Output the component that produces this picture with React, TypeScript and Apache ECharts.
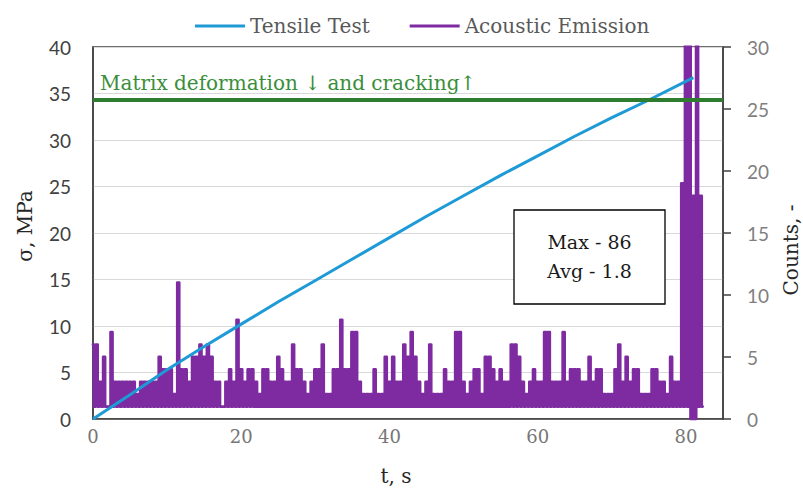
import React, { useEffect, useRef } from "react";
import * as echarts from "echarts";

// Tensile test: time (s) vs stress (MPa), left axis
const tensileT = [0, 5, 10, 15, 20, 25, 30, 35, 40, 45, 50, 55, 60, 65, 70, 75, 81];
const tensileS = [0, 2.6, 5.3, 7.8, 10.2, 12.6, 14.9, 17.2, 19.5, 21.8, 24.0, 26.2, 28.3, 30.4, 32.4, 34.3, 36.7];

// Acoustic emission counts (right axis): peak counts sampled every 0.5 s from t = 0
const aeStep = 0.5;
const aeHigh = [
  6, 6, 3, 5, 1, 7, 3, 3, 3, 3,
  3, 3, 2, 3, 3, 3, 3, 3, 5, 4,
  4, 4, 2, 11, 4, 4, 3, 5, 5, 6,
  5, 6, 5, 3, 3, 1, 3, 4, 3, 8,
  4, 3, 4, 4, 3, 2, 4, 4, 3, 3,
  5, 4, 3, 3, 6, 4, 4, 3, 2, 3,
  4, 4, 6, 2, 2, 4, 4, 8, 4, 4,
  7, 7, 3, 2, 2, 2, 4, 2, 2, 5,
  3, 5, 3, 3, 6, 5, 7, 5, 3, 2,
  3, 6, 2, 2, 2, 4, 3, 3, 7, 7,
  3, 2, 3, 4, 4, 2, 5, 5, 4, 3,
  4, 3, 3, 6, 6, 5, 3, 2, 3, 4,
  3, 3, 7, 7, 3, 3, 3, 7, 3, 4,
  4, 4, 3, 3, 5, 3, 4, 4, 2, 2,
  2, 4, 6, 3, 5, 3, 4, 4, 2, 2,
  2, 4, 4, 3, 3, 2, 5, 3, 3, 19,
  86, 60, 18, 70, 18,
];
// Minimum counts between peaks (at t = 0.25 s + 0.5 s * i)
const aeLow = [
  1, 1, 1, 1, 1, 1, 1, 1, 1, 1,
  1, 1, 1, 1, 1, 1, 1, 1, 1, 1,
  1, 1, 1, 1, 1, 1, 1, 1, 1, 1,
  1, 1, 1, 1, 1, 1, 1, 1, 1, 1,
  1, 1, 1, 1, 1, 1, 1, 1, 1, 1,
  1, 1, 1, 1, 1, 1, 1, 1, 1, 1,
  1, 1, 1, 1, 1, 1, 1, 1, 1, 1,
  1, 1, 1, 1, 1, 1, 1, 1, 1, 1,
  1, 1, 1, 1, 1, 1, 1, 1, 1, 1,
  1, 1, 1, 1, 1, 1, 1, 1, 1, 1,
  1, 1, 1, 1, 1, 1, 1, 1, 1, 1,
  1, 1, 1, 1, 1, 1, 1, 1, 1, 1,
  1, 1, 1, 1, 1, 1, 1, 1, 1, 1,
  1, 1, 1, 1, 1, 1, 1, 1, 1, 1,
  1, 1, 1, 1, 1, 1, 1, 1, 1, 1,
  1, 1, 1, 1, 1, 1, 1, 1, 1, 1,
  1, 0, 0, 1, 1,
];

const thresholdStress = 34.3;
const thresholdLabel = "Matrix deformation \u2193 and cracking\u2191";
const statsLines = ["Max - 86", "Avg - 1.8"];
const seriesNames = ["Tensile Test", "Acoustic Emission"];

const SERIF = "'DejaVu Serif', serif";
const SANS = "Lato, 'Open Sans', sans-serif";

export default function App() {
  const ref = useRef<HTMLDivElement>(null);

  useEffect(() => {
    if (!ref.current) return;
    const chart = echarts.init(ref.current, undefined, { renderer: "svg" });

    const tensileData = tensileT.map((t, i) => [t, tensileS[i]]);
    const aeData: number[][] = [];
    aeHigh.forEach((v, i) => {
      aeData.push([i * aeStep, v]);
      aeData.push([i * aeStep + aeStep / 2, aeLow[i]]);
    });

    const option: any = {
      animation: false,
      backgroundColor: "#ffffff",
      legend: {
        data: seriesNames,
        left: 190,
        top: 11,
        icon: "rect",
        itemWidth: 50,
        itemHeight: 3,
        itemGap: 40,
        textStyle: { fontFamily: SERIF, fontSize: 20, color: "#595959" },
      },
      grid: {
        left: 93,
        right: 80,
        top: 47,
        bottom: 70,
        show: true,
        borderColor: "#404040",
        borderWidth: 1.5,
        outerBoundsMode: "none",
      },
      xAxis: {
        type: "value",
        min: 0,
        max: 85,
        interval: 20,
        axisLine: { show: true, onZero: false, lineStyle: { color: "#404040", width: 1.5 } },
        axisTick: { show: false },
        splitLine: { show: false },
        axisLabel: {
          showMaxLabel: false,
          fontFamily: SERIF,
          fontSize: 18,
          color: "#767676",
          margin: 8,
        },
      },
      yAxis: [
        {
          type: "value",
          min: 0,
          max: 40,
          interval: 5,
          position: "left",
          axisLine: { show: true, lineStyle: { color: "#404040", width: 1.5 } },
          axisTick: { show: false },
          splitLine: { show: true, lineStyle: { color: "#d9d9d9", width: 1 } },
          axisLabel: { fontFamily: SANS, fontSize: 19, color: "#404040", margin: 22 },
        },
        {
          type: "value",
          min: 0,
          max: 30,
          interval: 5,
          position: "right",
          axisLine: { show: true, lineStyle: { color: "#404040", width: 1.5 } },
          axisTick: { show: true, inside: false, length: 8, lineStyle: { color: "#404040", width: 1.5 } },
          splitLine: { show: false },
          axisLabel: { fontFamily: SANS, fontSize: 19, color: "#7f7f7f", margin: 24 },
        },
      ],
      series: [
        {
          name: "threshold",
          type: "line",
          data: [],
          z: 1,
          silent: true,
          markLine: {
            silent: true,
            symbol: ["none", "none"],
            data: [{ yAxis: thresholdStress }],
            lineStyle: { color: "#2E7D2E", width: 4, type: "solid" },
            label: {
              show: true,
              position: "insideStartTop",
              formatter: thresholdLabel,
              fontFamily: SERIF,
              fontSize: 20,
              color: "#3A8E3A",
              distance: 7,
            },
          },
        },
        {
          name: seriesNames[1],
          type: "line",
          yAxisIndex: 1,
          data: aeData,
          symbol: "none",
          step: "middle",
          z: 2,
          lineStyle: { color: "#7E2AA1", width: 2.8, join: "round", cap: "round" },
          itemStyle: { color: "#7E2AA1" },
        },
        {
          name: seriesNames[0],
          type: "line",
          yAxisIndex: 0,
          data: tensileData,
          symbol: "none",
          z: 3,
          lineStyle: { color: "#1E9AD6", width: 3 },
          itemStyle: { color: "#1E9AD6" },
        },
      ],
      graphic: [
        {
          type: "rect",
          z: 100,
          shape: { x: 514, y: 210, width: 151, height: 94 },
          style: { fill: "#ffffff", stroke: "#000000", lineWidth: 1.3 },
        },
        {
          type: "text",
          z: 101,
          x: 589.5,
          y: 242,
          style: { text: statsLines[0], fontFamily: SERIF, fontSize: 19, fill: "#1a1a1a", align: "center", verticalAlign: "middle" },
        },
        {
          type: "text",
          z: 101,
          x: 589.5,
          y: 271,
          style: { text: statsLines[1], fontFamily: SERIF, fontSize: 19, fill: "#1a1a1a", align: "center", verticalAlign: "middle" },
        },
        {
          type: "text",
          x: 25,
          y: 226,
          rotation: Math.PI / 2,
          style: { text: "\u03c3, MPa", fontFamily: SERIF, fontSize: 20, fill: "#262626", align: "center", verticalAlign: "middle" },
        },
        {
          type: "text",
          x: 791,
          y: 250,
          rotation: Math.PI / 2,
          style: { text: "Counts, -", fontFamily: SERIF, fontSize: 20, fill: "#262626", align: "center", verticalAlign: "middle" },
        },
        {
          type: "text",
          x: 396,
          y: 476,
          style: { text: "t, s", fontFamily: SERIF, fontSize: 20, fill: "#262626", align: "center", verticalAlign: "middle" },
        },
      ],
    };

    chart.setOption(option);
    return () => chart.dispose();
  }, []);

  return <div ref={ref} style={{ width: 803, height: 489, position: "absolute", left: 0, top: 0 }} />;
}
